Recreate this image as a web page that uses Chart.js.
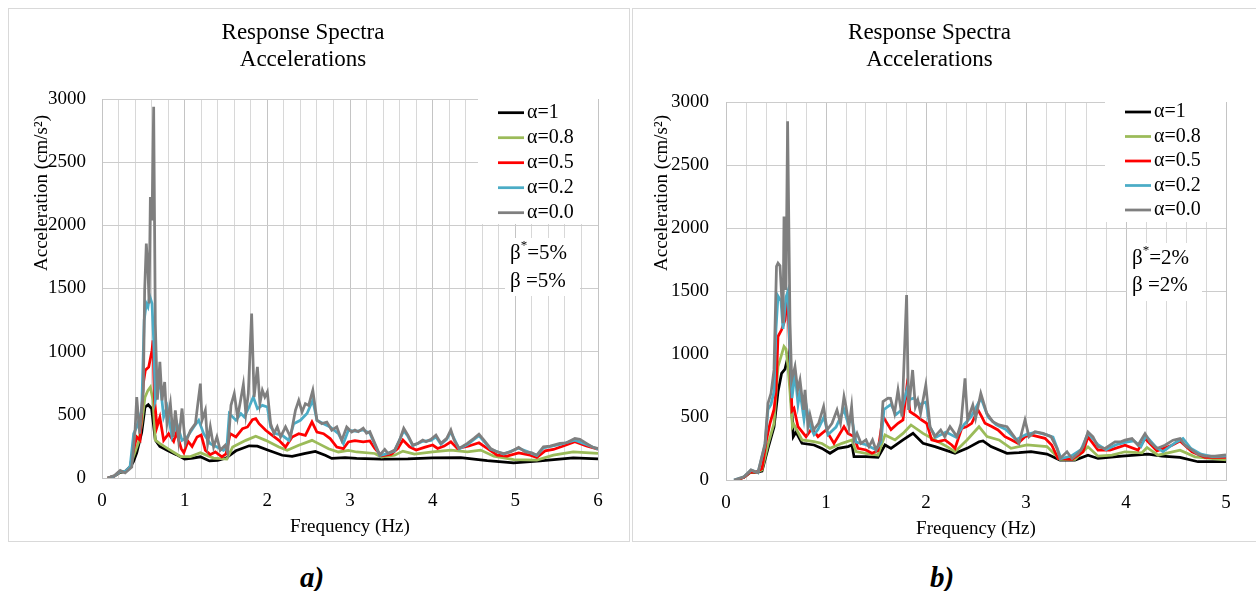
<!DOCTYPE html>
<html>
<head>
<meta charset="utf-8">
<script src="https://cdn.jsdelivr.net/npm/chart.js@4.4.1/dist/chart.umd.min.js"></script>
<style>
  body { margin: 0; width: 1256px; height: 591px; background: #fff; position: relative; overflow: hidden; }
  .frame { position: absolute; top: 8px; height: 534px; box-sizing: border-box; border: 1px solid #d9d9d9; }
  #frameA { left: 8px; width: 622px; }
  #frameB { left: 632px; width: 630px; }
  canvas { position: absolute; top: 8px; }
  #chartA { left: 8px; }
  #chartB { left: 633px; }
  .cap { position: absolute; top: 561px; width: 100px; text-align: center; line-height: 29px;
         font: italic bold 29px "Liberation Serif", serif; color: #000; }
</style>
</head>
<body>
<div class="frame" id="frameA"></div>
<div class="frame" id="frameB"></div>
<canvas id="chartA" width="621" height="534"></canvas>
<canvas id="chartB" width="623" height="534"></canvas>
<div class="cap" style="left:262px">a)</div>
<div class="cap" style="left:892px">b)</div>
<script>
const serif = '"Liberation Serif", "Times New Roman", serif';
const titleLines = ['Response Spectra', 'Accelerations'];
const xTitle = 'Frequency (Hz)';
const yTitle = 'Acceleration (cm/s\u00B2)';
const seriesLabels = ['\u03B1=1', '\u03B1=0.8', '\u03B1=0.5', '\u03B1=0.2', '\u03B1=0.0'];
const seriesColors = ['#000000', '#9BBB59', '#FF0000', '#4BACC6', '#7F7F7F'];
const yTicks = [0, 500, 1000, 1500, 2000, 2500, 3000];

// panel a) damping 5%  -  [frequency Hz, acceleration cm/s2]
const specA_a10 = [[0.07,0],[0.15,15],[0.22,45],[0.28,50],[0.34,85],[0.38,130],[0.42,200],[0.48,360],[0.52,560],[0.56,580],[0.60,550],[0.645,300],[0.70,250],[0.80,215],[0.90,185],[1.00,150],[1.10,158],[1.19,168],[1.30,135],[1.40,140],[1.50,158],[1.62,215],[1.78,255],[1.88,252],[2.02,218],[2.18,180],[2.30,172],[2.46,195],[2.58,210],[2.70,180],[2.78,155],[2.94,162],[3.08,155],[3.38,150],[3.70,152],[4.00,160],[4.34,162],[4.66,138],[4.98,120],[5.30,135],[5.70,160],[6.00,152]];
const specA_a08 = [[0.07,0],[0.15,15],[0.22,48],[0.28,52],[0.34,88],[0.38,170],[0.44,280],[0.48,430],[0.52,640],[0.556,694],[0.585,720],[0.617,615],[0.645,300],[0.70,272],[0.83,219],[0.95,170],[1.07,170],[1.19,200],[1.35,158],[1.51,150],[1.58,245],[1.74,298],[1.86,330],[1.98,298],[2.14,245],[2.24,219],[2.38,259],[2.54,298],[2.62,272],[2.74,232],[2.86,206],[2.98,219],[3.08,206],[3.30,194],[3.38,165],[3.54,181],[3.64,213],[3.78,189],[4.00,207],[4.22,221],[4.42,207],[4.58,221],[4.74,173],[4.98,146],[5.26,141],[5.46,181],[5.70,207],[6.00,194]];
const specA_a05 = [[0.07,0],[0.15,15],[0.22,52],[0.28,52],[0.34,90],[0.38,220],[0.42,325],[0.46,300],[0.50,750],[0.524,853],[0.565,879],[0.605,1010],[0.617,1090],[0.633,641],[0.665,404],[0.70,480],[0.746,298],[0.806,351],[0.867,290],[0.90,360],[0.96,230],[0.99,200],[1.04,290],[1.09,250],[1.15,325],[1.20,340],[1.25,220],[1.31,185],[1.37,206],[1.45,168],[1.50,190],[1.55,351],[1.62,325],[1.70,391],[1.76,404],[1.82,462],[1.86,470],[1.90,430],[1.98,378],[2.06,338],[2.14,298],[2.22,245],[2.30,325],[2.38,351],[2.46,338],[2.54,444],[2.60,364],[2.68,351],[2.76,312],[2.84,245],[2.92,232],[2.98,285],[3.06,295],[3.16,287],[3.24,293],[3.30,234],[3.38,176],[3.50,189],[3.58,234],[3.64,300],[3.72,247],[3.80,221],[3.90,242],[4.00,261],[4.06,234],[4.14,253],[4.22,287],[4.30,234],[4.44,253],[4.56,279],[4.66,234],[4.78,181],[4.90,173],[5.04,199],[5.18,181],[5.26,162],[5.36,215],[5.46,226],[5.58,253],[5.72,287],[5.86,253],[6.00,229]];
const specA_a02 = [[0.07,0],[0.15,15],[0.22,52],[0.28,52],[0.34,92],[0.383,351],[0.42,404],[0.48,536],[0.51,1249],[0.536,1381],[0.556,1354],[0.577,1440],[0.605,1381],[0.625,1090],[0.645,615],[0.70,773],[0.746,483],[0.786,562],[0.847,325],[0.907,430],[0.968,298],[1.03,325],[1.11,404],[1.17,457],[1.23,351],[1.31,272],[1.39,245],[1.47,219],[1.51,240],[1.54,510],[1.62,457],[1.68,510],[1.72,483],[1.78,562],[1.83,641],[1.88,549],[1.94,575],[2.00,562],[2.04,404],[2.10,351],[2.18,338],[2.26,298],[2.32,430],[2.40,457],[2.48,510],[2.55,615],[2.60,457],[2.68,430],[2.76,404],[2.86,351],[2.92,272],[2.98,378],[3.08,370],[3.16,380],[3.24,355],[3.30,265],[3.36,178],[3.46,195],[3.54,215],[3.65,375],[3.70,330],[3.76,255],[3.88,290],[3.98,298],[4.04,325],[4.10,268],[4.17,305],[4.22,365],[4.32,230],[4.42,265],[4.56,335],[4.70,228],[4.86,190],[5.04,235],[5.20,195],[5.26,178],[5.34,238],[5.54,265],[5.72,300],[5.86,265],[6.00,228]];
const specA_a00 = [[0.07,0],[0.15,20],[0.22,60],[0.28,40],[0.36,87],[0.40,377],[0.42,640],[0.456,351],[0.50,694],[0.516,1486],[0.536,1856],[0.556,1645],[0.57,1381],[0.585,2225],[0.605,2040],[0.625,2938],[0.645,1222],[0.67,620],[0.70,920],[0.726,615],[0.758,760],[0.786,430],[0.827,590],[0.86,325],[0.887,536],[0.927,298],[0.968,550],[1.008,272],[1.07,377],[1.13,430],[1.157,575],[1.19,747],[1.21,457],[1.25,536],[1.278,272],[1.31,404],[1.35,245],[1.39,325],[1.43,219],[1.49,259],[1.52,200],[1.56,575],[1.60,668],[1.64,483],[1.68,628],[1.71,740],[1.74,510],[1.77,668],[1.81,1302],[1.84,641],[1.88,879],[1.91,589],[1.94,694],[1.97,641],[2.00,681],[2.04,430],[2.08,351],[2.12,404],[2.16,325],[2.22,404],[2.28,325],[2.34,536],[2.38,615],[2.42,523],[2.46,589],[2.50,575],[2.55,694],[2.60,457],[2.66,430],[2.72,443],[2.78,378],[2.84,404],[2.90,298],[2.96,404],[3.02,364],[3.06,380],[3.10,367],[3.16,394],[3.20,354],[3.24,367],[3.30,274],[3.36,181],[3.42,226],[3.46,194],[3.54,221],[3.60,300],[3.65,394],[3.70,340],[3.76,261],[3.82,274],[3.88,300],[3.92,287],[3.98,306],[4.04,340],[4.10,274],[4.17,314],[4.22,380],[4.26,300],[4.32,234],[4.42,274],[4.50,314],[4.56,346],[4.62,300],[4.70,234],[4.78,207],[4.86,194],[4.94,207],[5.04,242],[5.12,207],[5.20,199],[5.26,181],[5.34,247],[5.42,253],[5.54,274],[5.62,279],[5.72,314],[5.78,306],[5.86,274],[5.94,242],[6.00,234]];

// panel b) damping 2%
const specB_a10 = [[0.10,0],[0.18,22],[0.24,58],[0.30,60],[0.36,70],[0.42,250],[0.48,420],[0.52,700],[0.556,847],[0.59,880],[0.62,980],[0.64,794],[0.673,344],[0.70,380],[0.76,291],[0.88,278],[0.96,251],[1.04,212],[1.12,251],[1.22,265],[1.26,278],[1.28,185],[1.40,185],[1.52,180],[1.59,278],[1.65,251],[1.77,318],[1.87,370],[1.97,291],[2.09,265],[2.21,233],[2.29,212],[2.41,251],[2.53,304],[2.57,310],[2.65,265],[2.81,212],[2.93,217],[3.05,225],[3.21,206],[3.34,158],[3.49,158],[3.62,197],[3.72,171],[3.96,189],[4.22,205],[4.36,189],[4.54,179],[4.72,145],[5.00,145]];
const specB_a08 = [[0.10,0],[0.18,22],[0.24,60],[0.30,62],[0.36,80],[0.42,280],[0.48,450],[0.52,900],[0.55,980],[0.58,1060],[0.60,1040],[0.62,900],[0.64,700],[0.665,420],[0.68,440],[0.76,318],[0.88,304],[0.96,290],[1.04,251],[1.16,291],[1.26,318],[1.30,225],[1.44,206],[1.52,198],[1.59,357],[1.69,318],[1.77,370],[1.85,437],[1.97,370],[2.09,318],[2.21,265],[2.29,225],[2.41,318],[2.53,423],[2.61,344],[2.73,318],[2.85,251],[3.01,278],[3.21,265],[3.34,163],[3.49,163],[3.62,263],[3.72,189],[3.86,197],[3.99,224],[4.16,216],[4.21,258],[4.32,197],[4.54,237],[4.69,184],[5.00,160]];
const specB_a05 = [[0.10,0],[0.18,22],[0.24,62],[0.30,62],[0.36,90],[0.40,300],[0.44,450],[0.48,560],[0.50,700],[0.52,1139],[0.556,1192],[0.59,1271],[0.616,1456],[0.64,980],[0.66,550],[0.68,569],[0.72,423],[0.80,344],[0.86,410],[0.92,344],[1.00,397],[1.08,291],[1.18,423],[1.22,370],[1.28,344],[1.32,251],[1.40,238],[1.46,212],[1.52,233],[1.57,503],[1.65,400],[1.72,450],[1.77,476],[1.807,728],[1.84,542],[1.89,516],[1.957,476],[2.007,450],[2.057,318],[2.12,305],[2.19,318],[2.257,278],[2.29,251],[2.357,410],[2.407,424],[2.457,450],[2.52,556],[2.557,503],[2.59,450],[2.657,424],[2.72,397],[2.79,344],[2.857,318],[2.92,291],[2.99,344],[3.05,357],[3.12,344],[3.19,331],[3.257,278],[3.32,172],[3.46,163],[3.57,224],[3.62,342],[3.72,237],[3.84,237],[3.99,276],[4.12,237],[4.19,329],[4.31,231],[4.46,276],[4.54,310],[4.66,224],[4.79,179],[5.00,179]];
const specB_a02 = [[0.08,0],[0.18,25],[0.25,78],[0.32,58],[0.39,280],[0.42,560],[0.45,600],[0.48,700],[0.50,1200],[0.52,1460],[0.55,1420],[0.57,1200],[0.60,1450],[0.62,1500],[0.64,1000],[0.66,650],[0.69,850],[0.72,600],[0.74,700],[0.78,480],[0.80,600],[0.84,430],[0.88,360],[0.92,400],[0.98,500],[1.02,360],[1.10,420],[1.18,560],[1.22,450],[1.26,480],[1.30,300],[1.40,280],[1.50,240],[1.55,300],[1.58,560],[1.65,600],[1.70,520],[1.76,560],[1.81,720],[1.84,640],[1.88,650],[1.94,600],[2.00,620],[2.04,420],[2.10,340],[2.20,380],[2.30,340],[2.38,440],[2.45,500],[2.55,650],[2.62,500],[2.70,440],[2.80,400],[2.90,320],[3.00,360],[3.10,380],[3.20,360],[3.27,340],[3.35,170],[3.45,190],[3.55,240],[3.62,370],[3.72,280],[3.80,240],[3.90,280],[4.00,300],[4.08,310],[4.15,265],[4.20,350],[4.30,260],[4.37,225],[4.50,300],[4.57,330],[4.65,250],[4.75,205],[4.86,185],[5.00,190]];
const specB_a00 = [[0.08,0],[0.18,25],[0.25,80],[0.32,58],[0.39,290],[0.42,609],[0.45,688],[0.48,874],[0.505,1695],[0.52,1721],[0.54,1700],[0.56,1403],[0.57,1245],[0.58,2092],[0.60,1509],[0.616,2847],[0.64,1245],[0.657,794],[0.69,900],[0.717,715],[0.74,794],[0.775,556],[0.79,715],[0.82,424],[0.84,516],[0.875,397],[0.926,450],[0.976,583],[1.01,397],[1.06,450],[1.11,556],[1.145,450],[1.18,662],[1.20,583],[1.23,424],[1.256,583],[1.28,318],[1.31,371],[1.35,291],[1.40,318],[1.43,265],[1.465,318],[1.50,238],[1.545,318],[1.57,622],[1.62,649],[1.645,648],[1.685,529],[1.72,714],[1.76,503],[1.806,1468],[1.826,556],[1.866,873],[1.894,582],[1.918,635],[1.946,529],[1.998,754],[2.04,423],[2.087,344],[2.147,397],[2.187,344],[2.24,423],[2.31,344],[2.35,450],[2.39,807],[2.416,476],[2.468,595],[2.496,490],[2.548,688],[2.608,529],[2.668,463],[2.729,437],[2.81,423],[2.87,357],[2.93,291],[2.99,476],[3.03,344],[3.09,384],[3.17,370],[3.25,344],[3.31,251],[3.34,171],[3.41,224],[3.46,171],[3.52,210],[3.57,263],[3.62,381],[3.67,342],[3.72,263],[3.79,250],[3.84,276],[3.89,302],[3.94,302],[3.99,316],[4.06,329],[4.12,276],[4.19,368],[4.24,302],[4.31,250],[4.39,276],[4.47,316],[4.54,329],[4.59,276],[4.66,237],[4.72,205],[4.79,189],[4.89,189],[5.00,200]];

const dampingA = ['5%', '5%'];
const dampingB = ['2%', '2%'];

function isWhole(v) {
  return Math.abs(v - Math.round(v)) < 1e-6;
}

// legend, beta note and off-centre y title (drawn like the Excel text boxes)
const panelDecor = {
  id: 'panelDecor',
  beforeDatasetsDraw(chart, args, o) {
    const ctx = chart.ctx;
    ctx.save();
    ctx.fillStyle = '#fff';
    ctx.fillRect(o.legendBox[0], o.legendBox[1], o.legendBox[2], o.legendBox[3]);
    ctx.fillRect(o.betaBox[0], o.betaBox[1], o.betaBox[2], o.betaBox[3]);
    ctx.restore();
  },
  afterDraw(chart, args, o) {
    const ctx = chart.ctx;
    ctx.save();
    ctx.textBaseline = 'middle';
    ctx.textAlign = 'left';
    ctx.font = '20px ' + serif;
    chart.data.datasets.forEach((ds, i) => {
      const y = o.legendY + i * o.legendStep;
      ctx.strokeStyle = ds.borderColor;
      ctx.lineWidth = 2.75;
      ctx.beginPath();
      ctx.moveTo(o.legendX, y);
      ctx.lineTo(o.legendX + 26, y);
      ctx.stroke();
      ctx.fillStyle = '#000';
      ctx.fillText(ds.label, o.legendX + 29, y);
    });

    // beta* / beta
    ctx.font = '21px ' + serif;
    let x = o.betaX;
    ctx.fillText('\u03B2', x, o.betaY1);
    x += ctx.measureText('\u03B2').width;
    ctx.font = '13px ' + serif;
    ctx.fillText('*', x, o.betaY1 - 7);
    x += ctx.measureText('*').width;
    ctx.font = '21px ' + serif;
    ctx.fillText('=' + o.damping[0], x, o.betaY1);
    ctx.fillText('\u03B2 =' + o.damping[1], o.betaX, o.betaY2);

    // y title
    ctx.translate(o.yTitleX, o.yTitleY);
    ctx.rotate(-Math.PI / 2);
    ctx.textAlign = 'center';
    ctx.font = '19px ' + serif;
    ctx.fillText(yTitle, 0, 0);
    ctx.restore();
  }
};

function buildChart(id, series, xMax, g) {
  const datasets = series.map((pts, i) => ({
    label: seriesLabels[i],
    data: pts.map(p => ({ x: p[0], y: p[1] })),
    borderColor: seriesColors[i],
    backgroundColor: seriesColors[i],
    borderWidth: 2.75,
    pointRadius: 0,
    tension: 0,
    order: series.length - 1 - i
  }));

  // 0.2 Hz steps: labels on whole hertz only, the rest are minor grid lines
  const xGrid = [];
  for (let k = 0; k <= xMax * 5; k++) xGrid.push(k / 5);

  return new Chart(document.getElementById(id), {
    type: 'line',
    data: { datasets: datasets },
    options: {
      responsive: false,
      animation: false,
      layout: { padding: { left: 0, top: 0, bottom: 0, right: g.padRight } },
      plugins: {
        legend: { display: false },
        tooltip: { enabled: false },
        title: {
          display: true,
          text: titleLines,
          color: '#000',
          font: { family: serif, size: 23, weight: 'normal', lineHeight: 1.2 },
          padding: { top: 11, bottom: g.titleGap }
        },
        panelDecor: g.decor
      },
      scales: {
        x: {
          type: 'linear',
          min: 0,
          max: xMax,
          afterBuildTicks: s => { s.ticks = xGrid.map(v => ({ value: v })); },
          ticks: {
            autoSkip: false,
            maxRotation: 0,
            padding: 12,
            color: '#000',
            font: { family: serif, size: 19 },
            callback: v => isWhole(v) ? String(Math.round(v)) : ''
          },
          grid: {
            drawTicks: false,
            color: c => (c.tick && !isWhole(c.tick.value)) ? '#d8d8d8' : '#c4c4c4'
          },
          border: { color: '#c4c4c4' },
          title: {
            display: true,
            text: xTitle,
            color: '#000',
            font: { family: serif, size: 19 },
            padding: { top: 0, bottom: g.xTitlePad }
          },
          afterFit: s => { s.height = g.xAxisH; }
        },
        y: {
          min: 0,
          max: 3000,
          afterBuildTicks: s => { s.ticks = yTicks.map(v => ({ value: v })); },
          ticks: {
            padding: g.yTickPad,
            color: '#000',
            font: { family: serif, size: 19 },
            callback: v => String(v)
          },
          grid: { drawTicks: false, color: '#cccccc' },
          border: { color: '#c4c4c4' },
          afterFit: s => { s.width = g.yAxisW; }
        }
      }
    },
    plugins: [panelDecor]
  });
}

buildChart('chartA', [specA_a10, specA_a08, specA_a05, specA_a02, specA_a00], 6, {
  padRight: 31, titleGap: 24.8, xAxisH: 64, yAxisW: 94, xTitlePad: 3.6, yTickPad: 16,
  decor: {
    legendBox: [470, 91, 120, 125], legendX: 490, legendY: 104.7, legendStep: 25,
    betaBox: [497, 230, 75, 58], betaX: 502, betaY1: 245, betaY2: 273, damping: dampingA,
    yTitleX: 34, yTitleY: 185
  }
});

buildChart('chartB', [specB_a10, specB_a08, specB_a05, specB_a02, specB_a00], 5, {
  padRight: 30, titleGap: 27.8, xAxisH: 62, yAxisW: 93, xTitlePad: 1.6, yTickPad: 17,
  decor: {
    legendBox: [472, 94, 121, 120], legendX: 492, legendY: 104, legendStep: 24.5,
    betaBox: [494, 235, 75, 58], betaX: 499, betaY1: 250, betaY2: 277, damping: dampingB,
    yTitleX: 29.5, yTitleY: 185
  }
});
</script>
</body>
</html>
